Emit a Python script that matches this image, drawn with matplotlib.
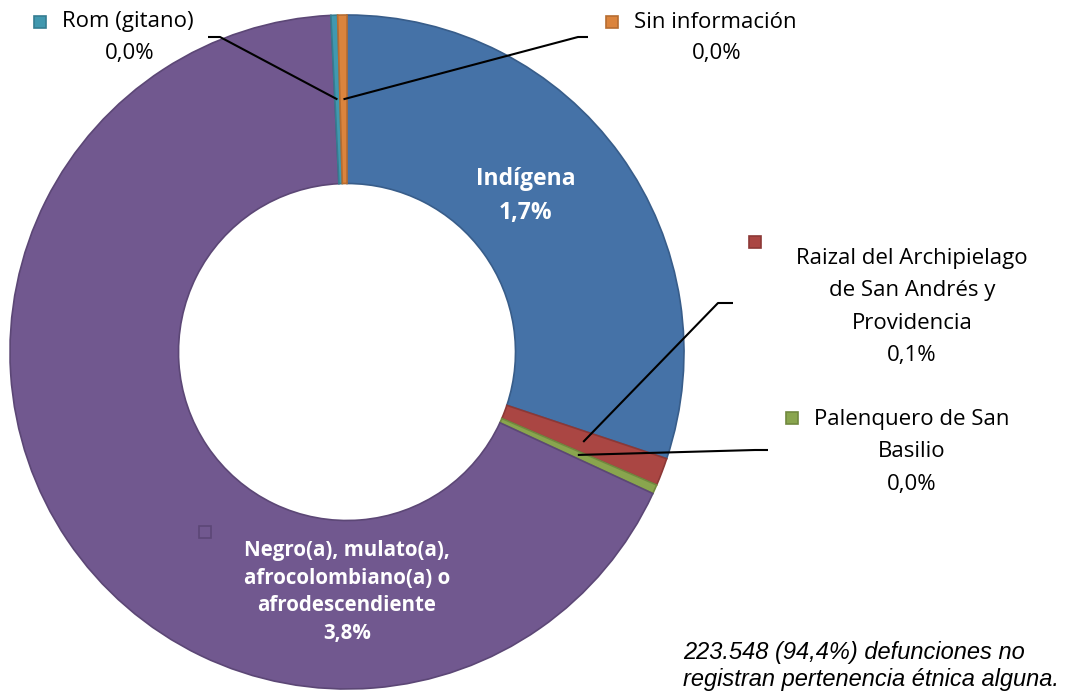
import matplotlib.pyplot as plt
import numpy as np

# datos (porcentaje del total de defunciones)
categorias = ['Indígena',
              'Raizal del Archipielago\nde San Andrés y\nProvidencia',
              'Palenquero de San\nBasilio',
              'Negro(a), mulato(a),\nafrocolombiano(a) o\nafrodescendiente',
              'Rom (gitano)',
              'Sin información']
valores = [1.70, 0.075, 0.025, 3.80, 0.018, 0.025]
etiquetas_pct = ['1,7%', '0,1%', '0,0%', '3,8%', '0,0%', '0,0%']
nota = '223.548 (94,4%) defunciones no\nregistran pertenencia étnica alguna.'

colores = ['#4572A7', '#AA4643', '#89A54E', '#71588F', '#4198AF', '#DB843D']
bordes = ['#385D8A', '#8C3836', '#71893F', '#5C4776', '#357D91', '#B66D31']

W, H = 1067, 693
CX, CY, R = 347, 352, 337

fig = plt.figure(figsize=(W / 100, H / 100), dpi=100)
ax = fig.add_axes([(CX - R) / W, (H - CY - R) / H, 2 * R / W, 2 * R / H])

wedges, _ = ax.pie(valores, colors=colores, startangle=90, counterclock=False,
                   radius=1, wedgeprops=dict(width=0.5, linewidth=1.2))
for w, e in zip(wedges, bordes):
    w.set_edgecolor(e)
ax.set_xlim(-1, 1)
ax.set_ylim(-1, 1)
ax.axis('off')


def pxd(px, py):
    # pixel de la imagen -> coordenadas de datos
    return (px - CX) / R, (CY - py) / R


total = sum(valores)
acum = np.cumsum([0] + valores[:-1])
ang_medio = [np.deg2rad(90 - 360 * (a + v / 2) / total) for a, v in zip(acum, valores)]

fuente = ['Open Sans', 'DejaVu Sans']
fs = 16

# lineas guia: (indice, codo, fin)
guias = [(4, (220, 37), (208, 37)),
         (5, (578, 37), (588, 37)),
         (1, (718, 303), (733, 303)),
         (2, (755, 450), (768, 450))]
for i, codo, fin in guias:
    a = ang_medio[i]
    x0, y0 = 0.75 * np.cos(a), 0.75 * np.sin(a)
    x1, y1 = pxd(*codo)
    x2, y2 = pxd(*fin)
    ax.plot([x0, x1, x2], [y0, y1, y2], color='black', lw=1.5, clip_on=False,
            solid_capstyle='butt')

# marcadores de leyenda en las etiquetas
marcas = [(4, (40, 22)), (5, (612, 22)), (1, (755, 242)), (2, (792, 418)), (3, (205, 532))]
for i, pos in marcas:
    x, y = pxd(*pos)
    ax.plot(x, y, marker='s', ms=9, mfc=colores[i], mec=bordes[i], mew=1.2,
            clip_on=False, ls='none')

# etiquetas externas
x, y = pxd(62, 22)
ax.text(x, y, categorias[4], ha='left', va='center', fontsize=fs, family=fuente)
x, y = pxd(130, 53)
ax.text(x, y, etiquetas_pct[4], ha='center', va='center', fontsize=fs, family=fuente)

x, y = pxd(634, 22)
ax.text(x, y, categorias[5], ha='left', va='center', fontsize=fs, family=fuente)
x, y = pxd(717, 53)
ax.text(x, y, etiquetas_pct[5], ha='center', va='center', fontsize=fs, family=fuente)

x, y = pxd(912, 307)
ax.text(x, y, categorias[1] + '\n' + etiquetas_pct[1], ha='center', va='center',
        fontsize=fs, family=fuente, linespacing=1.7, clip_on=False)

x, y = pxd(912, 452)
ax.text(x, y, categorias[2] + '\n' + etiquetas_pct[2], ha='center', va='center',
        fontsize=fs, family=fuente, linespacing=1.7, clip_on=False)

# etiquetas internas
x, y = pxd(526, 196)
ax.text(x, y, categorias[0] + '\n' + etiquetas_pct[0], ha='center', va='center',
        fontsize=16.5, family=fuente, weight='bold', color='white', linespacing=1.52)
x, y = pxd(347, 592)
ax.text(x, y, categorias[3] + '\n' + etiquetas_pct[3], ha='center', va='center',
        fontsize=14.8, family=fuente, weight='bold', color='white', linespacing=1.43)

# nota
fig.text(683 / W, 1 - 666 / H, nota, ha='left', va='center', fontsize=17,
         family='Liberation Sans', style='italic', linespacing=1.25)

fig.savefig('out.png', dpi=100)
